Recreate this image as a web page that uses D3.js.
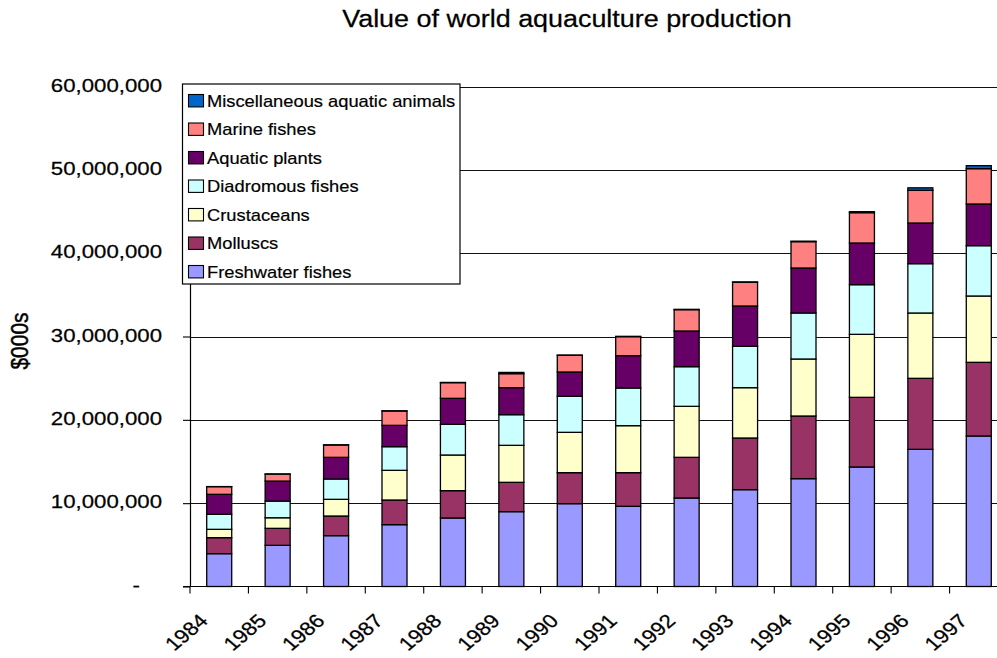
<!DOCTYPE html>
<html>
<head>
<meta charset="utf-8">
<script src="https://cdn.jsdelivr.net/npm/d3@7"></script>
<style>
  html, body { margin: 0; padding: 0; background: #fff; }
  svg { display: block; font-family: "Liberation Sans", Arial, sans-serif; }
</style>
</head>
<body>
<svg id="chart" width="997" height="658"></svg>
<script>
// Value of world aquaculture production, $000s, by species group
const years = ["1984","1985","1986","1987","1988","1989","1990","1991","1992","1993","1994","1995","1996","1997"];

const freshwaterFishes = [3940000,4940000,6100000,7420000,8220000,8980000,9940000,9620000,10620000,11620000,12940000,14340000,16460000,18060000];
const molluscs         = [1920000,2040000,2360000,2960000,3280000,3520000,3720000,4040000,4880000,6200000,7520000,8360000,8520000,8840000];
const crustaceans      = [1000000,1270000,2000000,3560000,4280000,4440000,4840000,5640000,6120000,6040000,6840000,7560000,7840000,7960000];
const diadromousFishes = [1800000,2000000,2440000,2840000,3680000,3680000,4320000,4520000,4760000,4960000,5520000,5960000,5920000,6040000];
const aquaticPlants    = [2400000,2400000,2600000,2560000,3120000,3240000,2920000,3880000,4280000,4840000,5400000,5000000,4880000,5000000];
const marineFishes     = [920000,840000,1480000,1720000,1880000,1680000,2000000,2280000,2560000,2840000,3160000,3640000,3920000,4240000];
const miscAnimals      = [10000,10000,20000,20000,30000,150000,30000,40000,40000,50000,60000,120000,300000,360000];

const seriesNames  = ["Freshwater fishes","Molluscs","Crustaceans","Diadromous fishes","Aquatic plants","Marine fishes","Miscellaneous aquatic animals"];
const seriesValues = [freshwaterFishes, molluscs, crustaceans, diadromousFishes, aquaticPlants, marineFishes, miscAnimals];
const seriesColors = ["#9999FF","#993366","#FFFFCC","#CCFFFF","#660066","#FF8080","#0066CC"];

const yTicks = [0,10000000,20000000,30000000,40000000,50000000,60000000];

const svg = d3.select("#chart");
const textScale = "scale(1.17,1)";

// plot frame
const plotLeft = 190, plotRight = 1008, plotTop = 86.5, plotBottom = 586.5;

const x = d3.scaleBand().domain(years).range([plotLeft, plotRight]).paddingInner(0.572).paddingOuter(0.286);
const y = d3.scaleLinear().domain([0, 60000000]).range([plotBottom, plotTop]);

// rows for the stack
const rows = years.map((yr, i) => {
  const r = { year: yr };
  seriesNames.forEach((n, k) => r[n] = seriesValues[k][i]);
  return r;
});
const stacked = d3.stack().keys(seriesNames)(rows);

// horizontal gridlines
svg.append("g")
  .selectAll("line")
  .data(yTicks.filter(v => v > 0))
  .join("line")
  .attr("x1", plotLeft).attr("x2", plotRight)
  .attr("y1", d => Math.round(y(d)) + 0.5).attr("y2", d => Math.round(y(d)) + 0.5)
  .attr("stroke", "#111").attr("stroke-width", 1.1);

// stacked bars
svg.append("g")
  .selectAll("g")
  .data(stacked)
  .join("g")
  .attr("fill", (d, k) => seriesColors[k])
  .selectAll("rect")
  .data(d => d)
  .join("rect")
  .attr("x", d => x(d.data.year))
  .attr("width", x.bandwidth())
  .attr("y", d => y(d[1]))
  .attr("height", d => y(d[0]) - y(d[1]))
  .attr("stroke", "#000")
  .attr("stroke-width", 1.3);

// y axis
const yAxis = svg.append("g")
  .attr("transform", `translate(${plotLeft},0)`)
  .call(d3.axisLeft(y).tickValues(yTicks).tickSize(7).tickSizeOuter(0)
    .tickFormat(d => d === 0 ? "-" : d3.format(",")(d)));
yAxis.select(".domain").attr("stroke", "#000").attr("stroke-width", 1.2);
yAxis.selectAll(".tick line").attr("stroke", "#000").attr("stroke-width", 1.1);
yAxis.selectAll(".tick text")
  .attr("x", null).attr("dy", null)
  .attr("font-size", 19).attr("fill", "#000")
  .attr("font-family", "Liberation Sans, Arial, sans-serif")
  .attr("stroke", "#000").attr("stroke-width", 0.25)
  .attr("text-anchor", "end")
  .attr("transform", d => `translate(${d === 0 ? -50 : -28},4.8) ${textScale}`);

// x axis: labels at category centres, tick marks between categories
const xAxis = svg.append("g")
  .attr("transform", `translate(0,${plotBottom})`)
  .call(d3.axisBottom(x).tickSize(0).tickSizeOuter(0));
xAxis.select(".domain").remove();
xAxis.selectAll(".tick text")
  .attr("y", null).attr("dy", null)
  .attr("font-size", 19).attr("fill", "#000")
  .attr("font-family", "Liberation Sans, Arial, sans-serif")
  .attr("stroke", "#000").attr("stroke-width", 0.25)
  .attr("text-anchor", "end")
  .attr("transform", `translate(-10,35.5) ${textScale} rotate(-45)`);

svg.append("line")
  .attr("x1", plotLeft - 7).attr("x2", plotRight)
  .attr("y1", plotBottom).attr("y2", plotBottom)
  .attr("stroke", "#000").attr("stroke-width", 1.2);

const gap = (x.step() - x.bandwidth()) / 2;
const boundaries = years.map(yr => x(yr) - gap).concat([x(years[years.length - 1]) + x.bandwidth() + gap]);
svg.append("g")
  .selectAll("line")
  .data(boundaries)
  .join("line")
  .attr("x1", d => d).attr("x2", d => d)
  .attr("y1", plotBottom).attr("y2", plotBottom + 7)
  .attr("stroke", "#000").attr("stroke-width", 1.1);

// title
svg.append("text")
  .attr("text-anchor", "middle")
  .attr("font-size", 23)
  .attr("stroke", "#000").attr("stroke-width", 0.25)
  .attr("transform", `translate(567,26.5) ${textScale}`)
  .text("Value of world aquaculture production");

// y axis title
svg.append("text")
  .attr("text-anchor", "middle")
  .attr("font-size", 21)
  .attr("stroke", "#000").attr("stroke-width", 0.4)
  .attr("transform", `translate(28,341) ${textScale} rotate(-90)`)
  .text("$000s");

// legend, top entry is the top of the stack
const legendOrder = d3.range(seriesNames.length).reverse();
const legend = svg.append("g");
legend.append("rect")
  .attr("x", 182.5).attr("y", 84).attr("width", 277.5).attr("height", 200)
  .attr("fill", "#fff").attr("stroke", "#000").attr("stroke-width", 1.2);
const rowY = d3.scalePoint().domain(legendOrder).range([100.7, 271.7]);
const item = legend.selectAll("g.item")
  .data(legendOrder)
  .join("g").attr("class", "item");
item.append("rect")
  .attr("x", 188.5).attr("y", k => rowY(k) - 6.2)
  .attr("width", 15).attr("height", 12.4)
  .attr("fill", k => seriesColors[k])
  .attr("stroke", "#000").attr("stroke-width", 1.1);
item.append("text")
  .attr("font-size", 16.8)
  .attr("stroke", "#000").attr("stroke-width", 0.2)
  .attr("transform", k => `translate(207,${rowY(k) + 6}) scale(1.09,1)`)
  .text(k => seriesNames[k]);
</script>
</body>
</html>
